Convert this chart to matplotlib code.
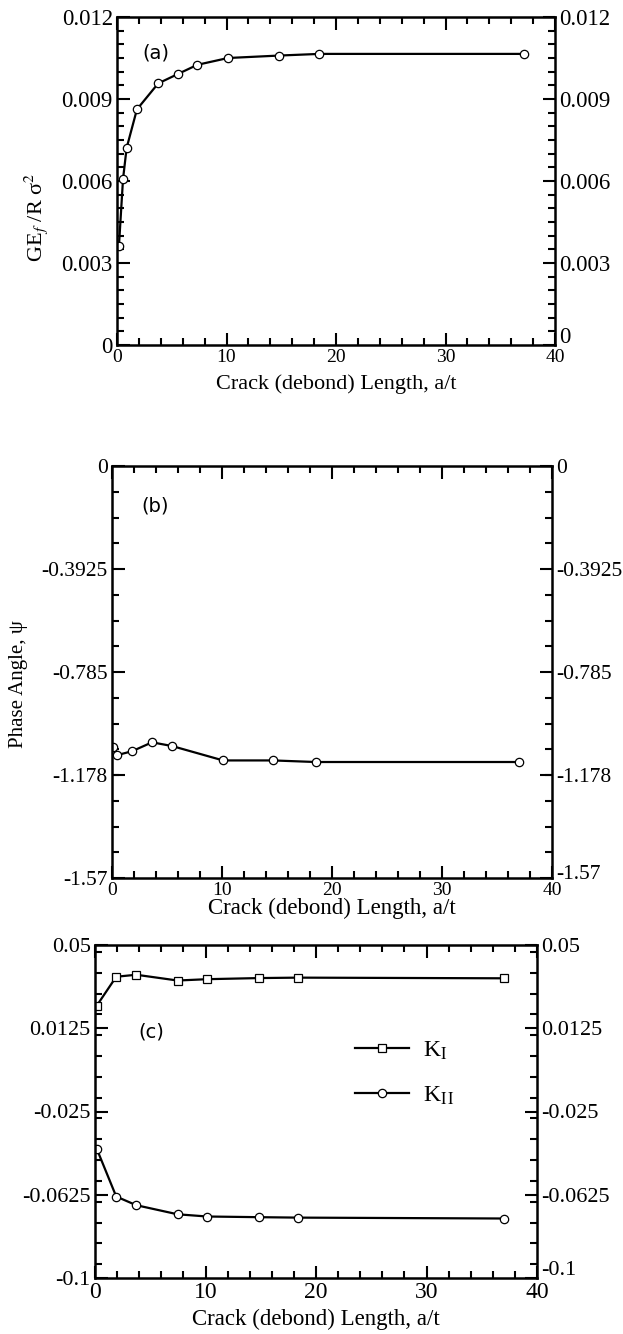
import matplotlib.pyplot as plt
from matplotlib.ticker import MultipleLocator
from matplotlib.transforms import ScaledTranslation

plt.rcParams['font.family'] = ['Liberation Serif', 'DejaVu Serif']
plt.rcParams['mathtext.fontset'] = 'stix'

# (a) energy release rate
x_a = [0.18, 0.55, 0.88, 1.82, 3.76, 5.54, 7.33, 10.14, 14.84, 18.49, 37.16]
g_a = [0.00364, 0.00607, 0.00721, 0.00862, 0.00957, 0.00991, 0.01025, 0.01050, 0.01059, 0.01065, 0.01065]

# (b) phase angle
x_b = [0.11, 0.44, 1.82, 3.64, 5.45, 10.1, 14.65, 18.5, 37.0]
psi_b = [-1.072, -1.102, -1.087, -1.053, -1.067, -1.122, -1.122, -1.128, -1.128]

# (c) stress intensity factors
x_c = [0.15, 1.92, 3.73, 7.47, 10.15, 14.8, 18.4, 37.0]
k1 = [0.0226, 0.0357, 0.0366, 0.0340, 0.0346, 0.0351, 0.0353, 0.0350]
k2 = [-0.0417, -0.0633, -0.0672, -0.0713, -0.0723, -0.0726, -0.0728, -0.0732]

yt_a = [0, 0.003, 0.006, 0.009, 0.012]
yl_a = ['0', '0.003', '0.006', '0.009', '0.012']
yt_b = [-1.57, -1.178, -0.785, -0.3925, 0]
yl_b = ['-1.57', '-1.178', '-0.785', '-0.3925', '0']
yt_c = [-0.1, -0.0625, -0.025, 0.0125, 0.05]
yl_c = ['-0.1', '-0.0625', '-0.025', '0.0125', '0.05']

W, H = 623, 1334
fig = plt.figure(figsize=(W / 100, H / 100), dpi=100)


def box(l, r, t, b):
    return [l / W, 1 - b / H, (r - l) / W, (b - t) / H]


ax_a = fig.add_axes(box(117, 555, 17, 345))
ax_b = fig.add_axes(box(112, 552, 466, 878))
ax_c = fig.add_axes(box(95, 537, 945, 1278))

mk = dict(color='black', lw=1.6, mfc='white', mec='black', mew=0.9, ms=6)
ax_a.plot(x_a, g_a, marker='o', **mk)
ax_b.plot(x_b, psi_b, marker='o', **mk)
ax_c.plot(x_c, k1, marker='s', label='K$_\\mathrm{I}$', **mk)
ax_c.plot(x_c, k2, marker='o', label='K$_\\mathrm{I\\,I}$', **mk)

setups = [(ax_a, yt_a, yl_a, 0.0005, 16.5, 0.10), (ax_b, yt_b, yl_b, 0.098125, 15.5, 0.06),
          (ax_c, yt_c, yl_c, 0.009375, 16, 0.10)]
for ax, yt, yl, ymin, fs, lift in setups:
    ax.set_xlim(0, 40)
    ax.set_ylim(yt[0], yt[-1])
    ax.set_xticks([0, 10, 20, 30, 40])
    ax.xaxis.set_minor_locator(MultipleLocator(2))
    ax.set_yticks(yt)
    ax.set_yticklabels(yl)
    ax.yaxis.set_minor_locator(MultipleLocator(ymin))
    ax.tick_params(which='both', direction='in', top=True, right=True,
                   labelright=True, width=1.5, pad=3)
    ax.tick_params(axis='y', labelsize=fs)
    ax.tick_params(axis='x', labelsize=14)
    ax.tick_params(which='major', length=9)
    ax.tick_params(which='minor', length=5)
    for s in ax.spines.values():
        s.set_linewidth(1.8)
    # the lowest right-hand label sits a little above the corner
    lab = ax.yaxis.get_major_ticks()[0].label2
    lab.set_transform(lab.get_transform() + ScaledTranslation(0, lift, fig.dpi_scale_trans))

ax_c.tick_params(axis='x', labelsize=17)

ax_a.set_xlabel('Crack (debond) Length, a/t', fontsize=16, labelpad=6)
ax_b.set_xlabel('Crack (debond) Length, a/t', fontsize=16.5, labelpad=-1)
ax_c.set_xlabel('Crack (debond) Length, a/t', fontsize=16.5, labelpad=4)
ax_a.set_ylabel('GE$_f$ /R σ$^2$', fontsize=16)
ax_a.yaxis.set_label_coords(-0.153, 0.39)
ax_b.set_ylabel('Phase Angle, ψ', fontsize=15)
ax_b.yaxis.set_label_coords(-0.19, 0.47)

ax_a.text(2.3, 0.0107, '(a)', family='DejaVu Sans', fontsize=14, va='center')
ax_b.text(2.7, -0.152, '(b)', family='DejaVu Sans', fontsize=14, va='center')
ax_c.text(3.9, 0.0108, '(c)', family='DejaVu Sans', fontsize=14, va='center')

ax_c.legend(loc='upper left', bbox_to_anchor=(0.54, 0.78), frameon=False,
            fontsize=17, handlelength=2.3, labelspacing=0.95, handletextpad=0.6)

fig.savefig('out.png', dpi=100)
